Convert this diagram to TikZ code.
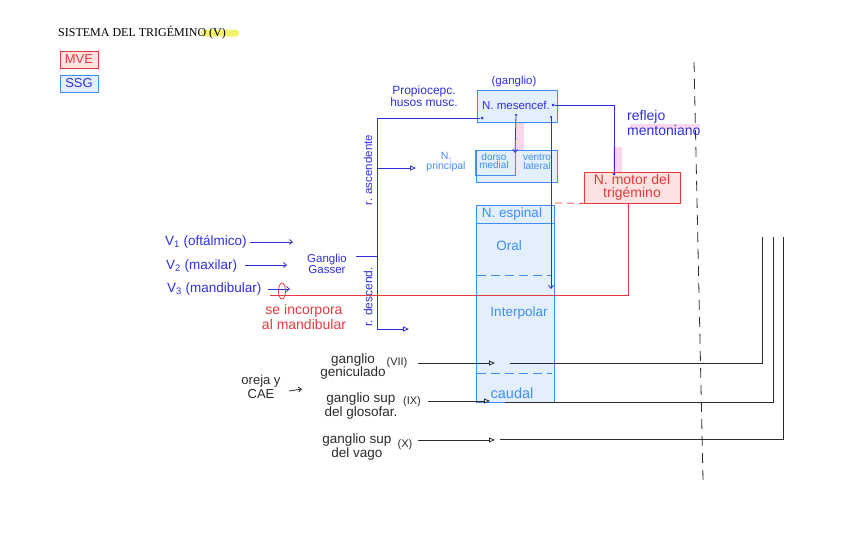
\documentclass[tikz,border=0pt]{standalone}
\usepackage{fontspec}
\setmainfont{Liberation Serif}
\setsansfont{Liberation Sans}
\usetikzlibrary{arrows.meta,positioning,calc}
\definecolor{penblue}{HTML}{2F2FDA}
\definecolor{ssgblue}{HTML}{3F8EF2}
\definecolor{ssgfill}{HTML}{E3EFFD}
\definecolor{mvered}{HTML}{E63A3F}
\definecolor{mvefill}{HTML}{FDE2E2}
\definecolor{penblack}{HTML}{2B2B2B}
\definecolor{marker}{HTML}{F5F36E}
\definecolor{markpink}{HTML}{FAD6EC}
\newcommand{\hand}[1]{\sffamily\fontsize{#1}{#1}\selectfont}
\tikzset{
  ssgbox/.style={draw=ssgblue,fill=ssgfill,line width=0.8pt,inner sep=0pt},
  mvebox/.style={draw=mvered,fill=mvefill,line width=0.8pt,inner sep=0pt},
  handblue/.style={text=penblue,font=\hand{13.5},align=center,inner sep=0pt},
  handssg/.style={text=ssgblue,font=\hand{13.5},align=center,inner sep=0pt},
  handred/.style={text=mvered,font=\hand{13.5},align=center,inner sep=0pt},
  handblack/.style={text=penblack,font=\hand{13.5},align=center,inner sep=0pt},
  bluepath/.style={draw=penblue,line width=0.8pt},
  redpath/.style={draw=mvered,line width=0.8pt},
  blackpath/.style={draw=penblack,line width=0.8pt},
  opentip/.style={-{Triangle[open,length=6pt,width=5pt]}},
  bartip/.style={-{Straight Barb[length=3pt,width=5pt]}},
  pendot/.style={circle,fill=penblue,inner sep=0pt,minimum size=3pt}
}
\begin{document}
\begin{tikzpicture}[x=1pt,y=-1pt]
  \useasboundingbox (0,0) rectangle (848,549);
  % title and legend
  \fill[marker,rounded corners=3pt] (201,29.5) rectangle (239,36.5);
  \node[anchor=west,inner sep=0pt,font=\fontsize{12}{13}\selectfont] (title) at (58,33) {SISTEMA DEL TRIGÉMINO (V)};
  \node[mvebox,minimum width=38pt,minimum height=17pt,handred,font=\hand{13}] (mve) at (79,59.5) {MVE};
  \node[ssgbox,minimum width=38pt,minimum height=17pt,handblue,font=\hand{13}] (ssg) at (79,83.5) {SSG};

  % highlighter marks
  \fill[markpink] (515,123) rectangle (524,150);
  \fill[markpink] (613,147) rectangle (622,172);
  \fill[markpink] (630,124) rectangle (700,129);

  % nuclei
  \node[ssgbox,minimum width=80pt,minimum height=32pt] (mesencef) at (517,106) {};
  \node[handblue,font=\hand{11.5}] (mesencefl) at (516,105) {N. mesencef.};
  \node[handblue,font=\hand{11.5}] (ganglio) at (514,82) {(ganglio)};
  \node[handblue,font=\sffamily\fontsize{12}{11}\selectfont] (propio) at (424,96) {Propiocepc.\\husos musc.};

  \node[ssgbox,minimum width=81pt,minimum height=32pt] (principal) at (516.5,166) {};
  \draw[ssgblue,line width=0.8pt] (principal.north west) |- (515,175) -- (515,150);
  \node[handssg,font=\sffamily\fontsize{10}{8.5}\selectfont] (dorso) at (494,161) {dorso\\medial};
  \node[handssg,font=\sffamily\fontsize{10}{8.5}\selectfont] (ventro) at (537,162) {ventro\\lateral};
  \node[handssg,font=\sffamily\fontsize{10.5}{10}\selectfont] (principall) at (446,162) {N.\\principal};

  \node[ssgbox,minimum width=78pt,minimum height=197pt] (espinal) at (515,303.5) {};
  \draw[ssgblue,line width=0.8pt] (476,223) -- (554,223);
  \draw[ssgblue,line width=0.8pt,dashed,dash pattern=on 9pt off 5pt] (477,275) -- (552,275);
  \draw[ssgblue,line width=0.8pt,dashed,dash pattern=on 9pt off 5pt] (477,373) -- (552,373);
  \node[handssg] (espinall) at (512,214) {N. espinal};
  \node[handssg] (oral) at (509,246) {Oral};
  \node[handssg] (interpolar) at (519,313) {Interpolar};
  \node[handssg,font=\hand{14.5}] (caudal) at (512,393) {caudal};

  \node[mvebox,minimum width=96pt,minimum height=31pt] (motor) at (632,187.5) {};
  \node[handred,font=\sffamily\fontsize{14}{12.5}\selectfont] (motorl) at (632,187.5) {N. motor del\\trigémino};
  \node[handblue,font=\sffamily\fontsize{14}{13}\selectfont,align=left,anchor=west] (reflejo) at (627,123) {reflejo\\mentoniano};

  % ascending and descending roots
  \coordinate (rtop) at (377,118);
  \coordinate (rbot) at (377,329);
  \coordinate (gasserpt) at (377,256);
  \coordinate (principalpt) at (377,168);
  \coordinate (desc) at (409,329);
  \coordinate (mesleft) at (482,118);
  \node[pendot] (mesdot) at (mesleft) {};
  \draw[bluepath] (mesdot) -- (rtop) -- (rbot);
  \draw[bluepath,opentip] (rbot) -- (desc);
  \draw[bluepath,opentip] (principalpt) -- (416,168);
  \draw[bluepath] (356,256) -- (gasserpt);
  \node[handblue,rotate=90,font=\hand{11.5}] (asc) at (368,170) {r. ascendente};
  \node[handblue,rotate=90,font=\hand{12}] (descl) at (368,297) {r. descend.};
  \node[handblue,font=\sffamily\fontsize{11.5}{11}\selectfont] (gasser) at (327,264) {Ganglio\\Gasser};

  % mesencephalic connections
  \node[pendot] (mesright) at (553,105) {};
  \node[pendot] (motordot) at (614,174) {};
  \draw[bluepath] (mesright) -| (motordot);
  \node[pendot,minimum size=2.5pt] (mesmid) at (516,115) {};
  \draw[bluepath,bartip] (mesmid) -- (515,153);
  \node[pendot,minimum size=2.5pt] (mesdown) at (551,117) {};
  \draw[bluepath,bartip] (mesdown) -- (551,289);

  % trigeminal branches
  \node[handblue,anchor=west] (v1) at (165,242) {V\textsubscript{1} (oftálmico)};
  \node[handblue,anchor=west] (v2) at (166,266) {V\textsubscript{2} (maxilar)};
  \node[handblue,anchor=west] (v3) at (167,289) {V\textsubscript{3} (mandibular)};
  \draw[bluepath,bartip] (250,242) -- (293,242);
  \draw[bluepath,bartip] (245,265) -- (287,265);
  \draw[bluepath,bartip] (268,289) -- (290,289);

  % motor root
  \coordinate (redcorner) at (628,295);
  \coordinate (redend) at (270,295);
  \draw[redpath] (628,204) -- (redcorner) -- (redend);
  \draw[redpath,dashed,dash pattern=on 7pt off 5pt] (555,203) -- (motor.south west);
  \draw[redpath] (282,291) ellipse (3.5 and 8);
  \node[handred,font=\sffamily\fontsize{14}{12}\selectfont] (incorpora) at (304,317) {se incorpora\\al mandibular};

  % other ganglia
  \node[handblack,font=\sffamily\fontsize{13.5}{13}\selectfont] (geniculado) at (353,367) {ganglio\\geniculado};
  \node[handblack,font=\hand{11}] (vii) at (397,363) {(VII)};
  \node[handblack,font=\sffamily\fontsize{13.5}{12.5}\selectfont] (glosofar) at (361,406) {ganglio sup\\del glosofar.};
  \node[handblack,font=\hand{11}] (ix) at (412,402) {(IX)};
  \node[handblack,font=\sffamily\fontsize{13.5}{12.5}\selectfont] (vago) at (357,447) {ganglio sup\\del vago};
  \node[handblack,font=\hand{11}] (x) at (405,445) {(X)};
  \node[handblack,font=\sffamily\fontsize{13}{14}\selectfont] (oreja) at (261,387) {oreja y\\CAE};
  \draw[blackpath,bartip] (289,391) -- (302,389);

  \draw[blackpath,opentip] (418,363) -- (495,363);
  \draw[blackpath] (510,363) -| (762,237);
  \draw[blackpath,opentip] (428,401) -- (490,401);
  \draw[blackpath] (505,402) -| (773,237);
  \draw[blackpath,opentip] (418,440) -- (495,440);
  \draw[blackpath] (500,439) -| (783,237);

  % midline
  \draw[penblack,line width=0.8pt,dash pattern=on 10pt off 7pt] (694,62) -- (703,480);
\end{tikzpicture}
\end{document}
